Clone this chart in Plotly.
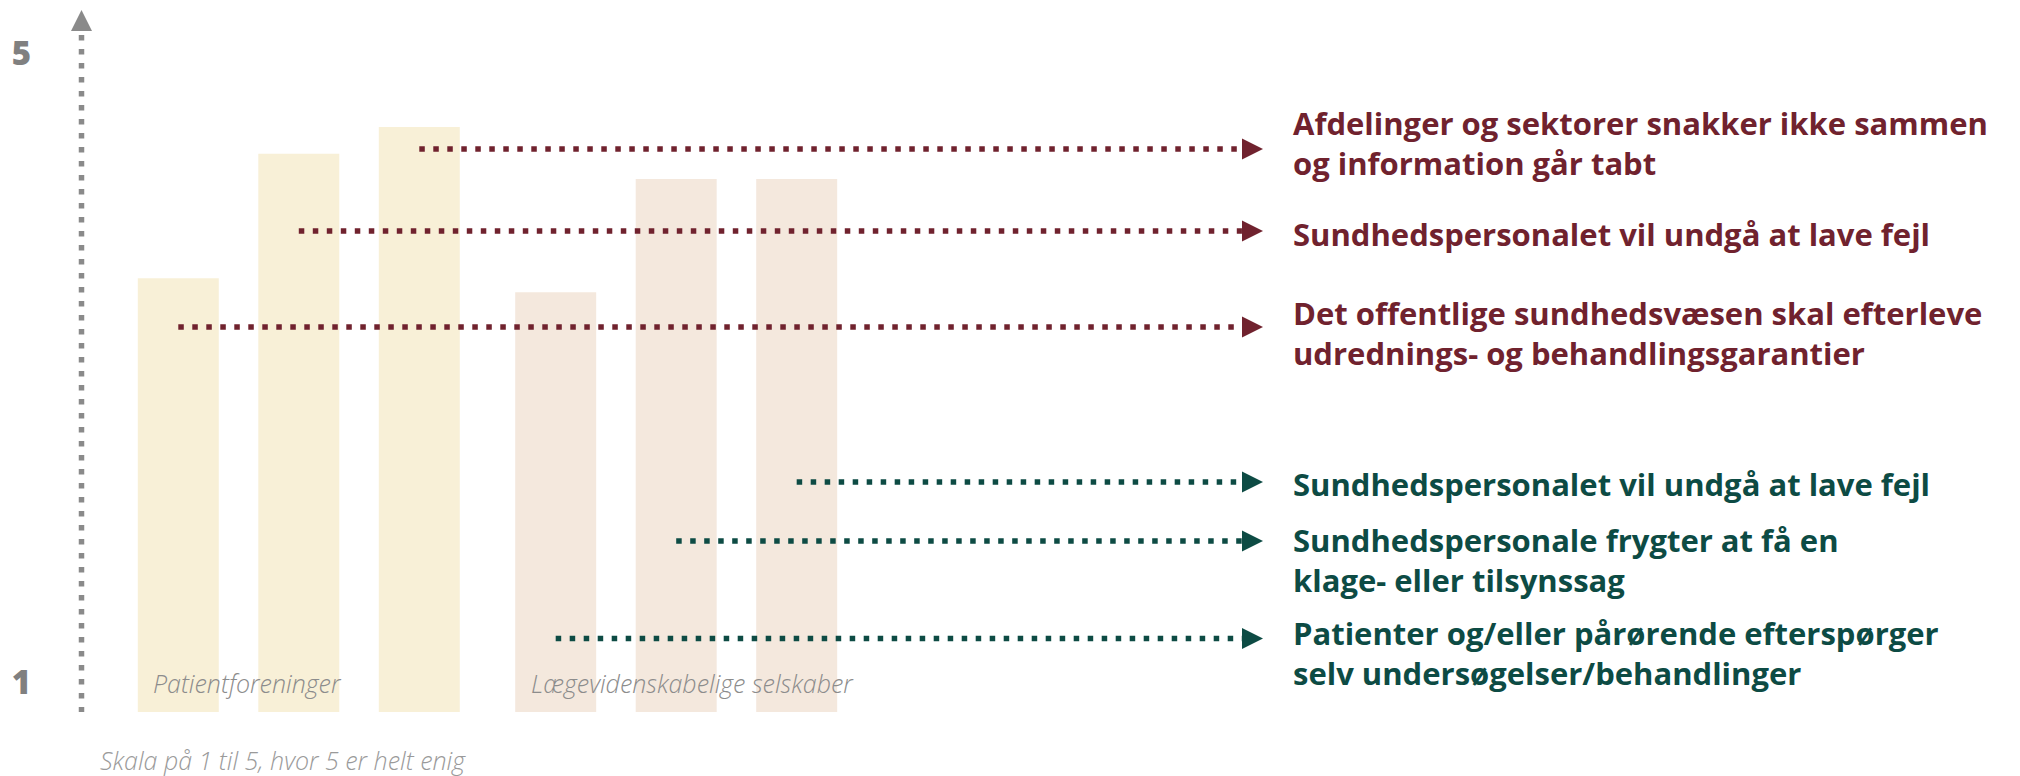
import plotly.graph_objects as go

# ---------------- data ----------------
groups = ["Patientforeninger", "Lægevidenskabelige selskaber"]
bar_group = [0, 0, 0, 1, 1, 1]
values = [3.57, 4.36, 4.53, 3.48, 4.20, 4.20]
statements = [
    "Det offentlige sundhedsvæsen skal efterleve<br>udrednings- og behandlingsgarantier",
    "Sundhedspersonalet vil undgå at lave fejl",
    "Afdelinger og sektorer snakker ikke sammen<br>og information går tabt",
    "Patienter og/eller pårørende efterspørger<br>selv undersøgelser/behandlinger",
    "Sundhedspersonale frygter at få en<br>klage- eller tilsynssag",
    "Sundhedspersonalet vil undgå at lave fejl",
]
tick_vals = [1, 5]
tick_text = ["1", "5"]
scale_note = "Skala på 1 til 5, hvor 5 er helt enig"

# ---------------- layout / style ----------------
bar_colors = ["#f8f0d7", "#f4e8dd"]
line_colors = ["#70222e", "#0d4b44"]
axis_gray = "#8a8a8a"
group_gap = 0.132
bar_width = 0.672
connector_y = [3.26, 3.87, 4.39, 1.28, 1.90, 2.275]   # label rows (layout)
text_y = [3.2217, 3.8507, 4.432, 1.1855, 1.7827, 2.2624]
line_end_x = 8.827
arrow_tip_x = 9.002
text_x = 9.234
x_range = [-0.9817, 15.284]
y_range = [0.8138, 5.2865]
axis_x = -0.8033
FONT = "Open Sans"

xs = [i + group_gap * bar_group[i] for i in range(len(values))]
fig = go.Figure()

for g in range(len(groups)):
    idx = [i for i in range(len(values)) if bar_group[i] == g]
    fig.add_trace(go.Bar(
        x=[xs[i] for i in idx], y=[values[i] for i in idx], width=bar_width,
        marker=dict(color=bar_colors[g], line=dict(width=0)),
        hoverinfo="skip", showlegend=False,
    ))

shapes = []
annotations = []
for i in range(len(values)):
    col = line_colors[bar_group[i]]
    fig.add_trace(go.Scatter(
        x=[xs[i], line_end_x], y=[connector_y[i], connector_y[i]], mode="lines",
        line=dict(color=col, width=5.5, dash="5.5px,8.5px"),
        hoverinfo="skip", showlegend=False,
    ))
    shapes.append(dict(
        type="path", xref="x", yref="y", xsizemode="pixel", ysizemode="pixel",
        xanchor=arrow_tip_x, yanchor=connector_y[i],
        path="M0,0 L-21,10.5 L-21,-10.5 Z",
        fillcolor=col, line=dict(width=0),
    ))
    annotations.append(dict(
        x=text_x, y=text_y[i], xref="x", yref="y", xanchor="left", yanchor="middle",
        text=statements[i], showarrow=False, align="left",
        font=dict(family=FONT, size=31, color=col, weight=700),
    ))

# group labels
for g, name in enumerate(groups):
    first = min(i for i in range(len(values)) if bar_group[i] == g)
    annotations.append(dict(
        x=xs[first] - 0.225, y=1.0, xref="x", yref="y", xanchor="left", yanchor="middle",
        text=name, showarrow=False,
        font=dict(family=FONT, size=25, color="#8c8c8c", style="italic", weight=300),
    ))

annotations.append(dict(
    x=0.0194, y=-0.0682, xref="paper", yref="paper", xanchor="left", yanchor="middle",
    text=scale_note, showarrow=False,
    font=dict(family=FONT, size=25, color="#9a9a9a", style="italic", weight=300),
))

# vertical dotted axis with arrow
shapes.append(dict(
    type="line", xref="x", yref="y", x0=axis_x, x1=axis_x, y0=5.115, y1=y_range[0],
    line=dict(color=axis_gray, width=5.5, dash="5.5px,8.5px"),
))
shapes.append(dict(
    type="path", xref="x", yref="y", xsizemode="pixel", ysizemode="pixel",
    xanchor=axis_x, yanchor=5.2738,
    path="M0,0 L-10.5,-21 L10.5,-21 Z",
    fillcolor=axis_gray, line=dict(width=0),
))

fig.update_layout(
    width=2012, height=768,
    margin=dict(l=52, r=0, t=0, b=64),
    paper_bgcolor="white", plot_bgcolor="white",
    barmode="overlay",
    xaxis=dict(range=x_range, visible=False, fixedrange=True),
    yaxis=dict(range=y_range, tickvals=tick_vals, ticktext=tick_text,
               showgrid=False, zeroline=False, showline=False, ticks="",
               ticklabelstandoff=28,
               tickfont=dict(family=FONT, size=33, color="#808080", weight=800)),
    shapes=shapes, annotations=annotations,
    showlegend=False,
)

fig.write_html("out.html")
